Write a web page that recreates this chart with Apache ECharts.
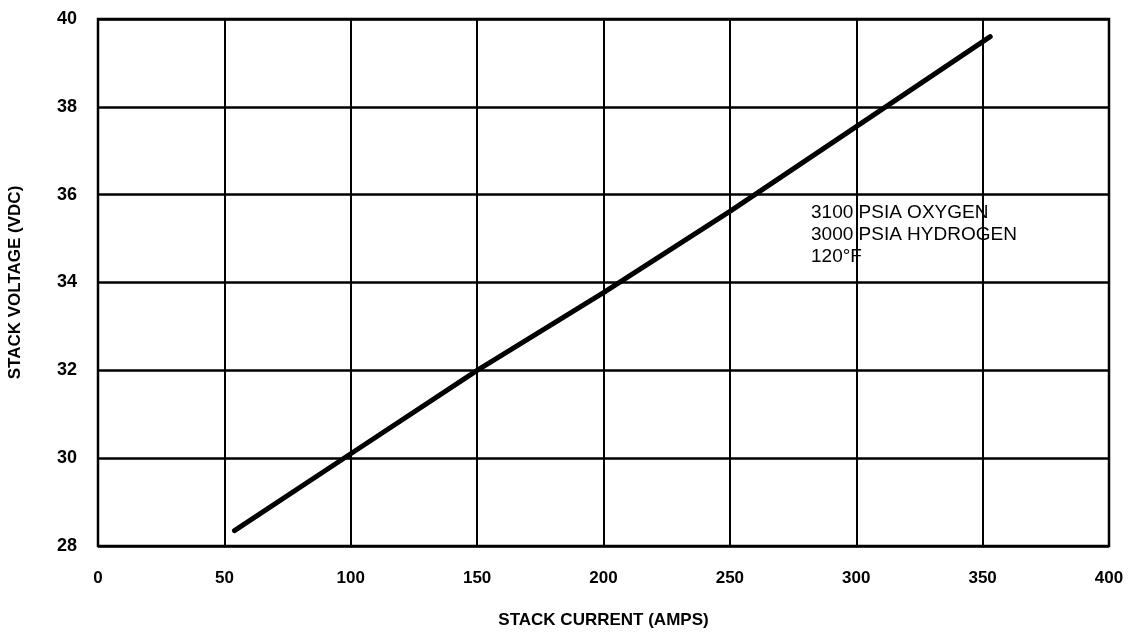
<!DOCTYPE html>
<html><head><meta charset="utf-8">
<script src="https://cdn.jsdelivr.net/npm/echarts@6/dist/echarts.min.js"></script>
<style>html,body{margin:0;padding:0;background:#fff}#c{width:1146px;height:632px}</style>
</head><body><div id="c"></div>
<script>
const currentAmps = [54, 100, 150, 200, 250, 300, 353];
const voltageVdc = [28.35, 30.1, 32.0, 33.77, 35.62, 37.55, 39.6];
const xTicks = [0, 50, 100, 150, 200, 250, 300, 350, 400];
const yTicks = [28, 30, 32, 34, 36, 38, 40];
const noteLines = ['3100 PSIA OXYGEN', '3000 PSIA HYDROGEN', '120°F'];

const chart = echarts.init(document.getElementById('c'));
const font = 'Liberation Sans, Arial, sans-serif';
chart.setOption({
  animation: false,
  backgroundColor: '#fff',
  grid: {left: 98, right: 37, top: 19, bottom: 86, show: true, borderColor: '#000', borderWidth: 2.5, containLabel: false, outerBoundsMode: 'none'},
  xAxis: {
    type: 'value', min: xTicks[0], max: xTicks[xTicks.length-1], interval: 50,
    name: 'STACK CURRENT (AMPS)', nameLocation: 'middle', nameGap: 66,
    nameTextStyle: {fontFamily: font, fontWeight: 'bold', fontSize: 17, color: '#000'},
    axisLine: {show: false}, axisTick: {show: false},
    axisLabel: {fontFamily: font, fontWeight: 'bold', fontSize: 17, color: '#000', margin: 24},
    splitLine: {show: true, lineStyle: {color: '#000', width: 2}}
  },
  yAxis: {
    type: 'value', min: yTicks[0], max: yTicks[yTicks.length-1], interval: 2,
    name: 'STACK VOLTAGE (VDC)', nameLocation: 'middle', nameGap: 74, nameRotate: 90,
    nameTextStyle: {fontFamily: font, fontWeight: 'bold', fontSize: 17, color: '#000'},
    axisLine: {show: false}, axisTick: {show: false},
    axisLabel: {fontFamily: font, fontWeight: 'bold', fontSize: 18, color: '#000', margin: 21},
    splitLine: {show: true, lineStyle: {color: '#000', width: 2.5}}
  },
  series: [{
    type: 'line', showSymbol: false, smooth: false,
    data: currentAmps.map((x, i) => [x, voltageVdc[i]]),
    lineStyle: {color: '#000', width: 5, cap: 'round'}
  }],
  graphic: [{
    type: 'text', left: 811, top: 202,
    style: {text: noteLines.join('\n'), fontFamily: font, fontSize: 19, lineHeight: 22, fill: '#000', backgroundColor: '#fff'}
  }]
});
</script></body></html>
